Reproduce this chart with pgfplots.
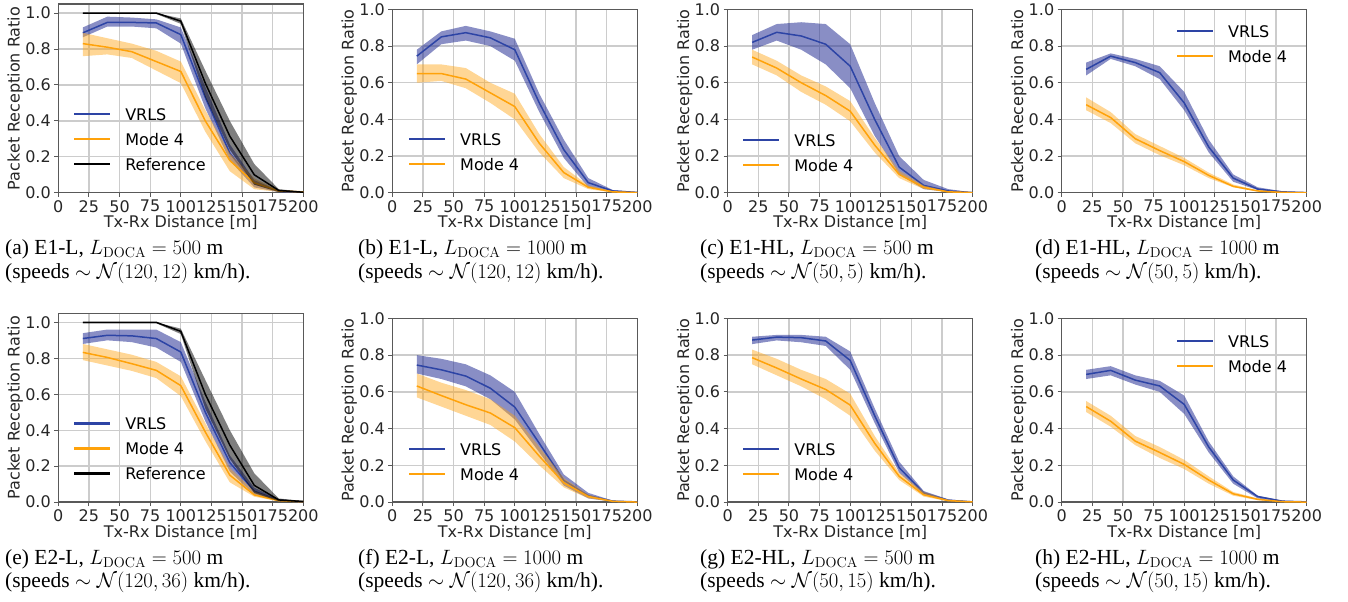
\documentclass[border=0pt]{standalone}
\usepackage[no-math]{fontspec}
\usepackage{pgfplots}
\usepackage{pgfplotstable}
\pgfplotsset{compat=1.18}
\setmainfont{Liberation Serif}
\newfontfamily\dejavu{DejaVu Sans}
\newcommand\axfont{\dejavu\fontsize{16}{19}\selectfont}
\newcommand\capfont{\fontsize{21.5}{24}\selectfont}
\definecolor{vline}{RGB}{45,68,165}
\definecolor{vband}{RGB}{40,50,150}
\definecolor{mline}{RGB}{255,162,10}
\definecolor{mband}{RGB}{255,165,20}

% mean curves (x, VRLS, Mode 4, Reference)
\pgfplotstableread{
x vm mm rm
20 0.89 0.83 1.0
40 0.948 0.81 1.0
60 0.948 0.785 1.0
80 0.945 0.73 1.0
100 0.88 0.675 0.955
120 0.53 0.40 0.61
140 0.22 0.18 0.315
160 0.05 0.055 0.10
180 0.008 0.01 0.013
200 0.002 0.005 0.003
}\tabA
\pgfplotstableread{
x vm mm
20 0.745 0.65
40 0.85 0.65
60 0.873 0.62
80 0.845 0.545
100 0.78 0.47
120 0.49 0.27
140 0.235 0.11
160 0.055 0.03
180 0.01 0.005
200 0.002 0.001
}\tabB
\pgfplotstableread{
x vm mm
20 0.82 0.74
40 0.875 0.68
60 0.855 0.60
80 0.81 0.53
100 0.69 0.445
120 0.40 0.26
140 0.14 0.10
160 0.04 0.03
180 0.01 0.005
200 0.001 0.001
}\tabC
\pgfplotstableread{
x vm mm
20 0.673 0.48
40 0.745 0.41
60 0.71 0.295
80 0.655 0.23
100 0.49 0.17
120 0.25 0.095
140 0.08 0.035
160 0.02 0.01
180 0.005 0.002
200 0.001 0
}\tabD
\pgfplotstableread{
x vm mm rm
20 0.91 0.833 1
40 0.928 0.805 1
60 0.925 0.77 1
80 0.91 0.733 1
100 0.835 0.648 0.95
120 0.50 0.39 0.60
140 0.22 0.15 0.317
160 0.06 0.04 0.093
180 0.01 0.008 0.012
200 0.002 0.002 0.003
}\tabE
\pgfplotstableread{
x vm mm
20 0.746 0.632
40 0.72 0.58
60 0.686 0.53
80 0.62 0.485
100 0.517 0.405
120 0.32 0.25
140 0.118 0.105
160 0.035 0.03
180 0.005 0.004
200 0.001 0
}\tabF
\pgfplotstableread{
x vm mm
20 0.882 0.786
40 0.898 0.73
60 0.895 0.67
80 0.877 0.613
100 0.771 0.528
120 0.47 0.32
140 0.187 0.14
160 0.05 0.04
180 0.01 0.008
200 0.001 0.001
}\tabG
\pgfplotstableread{
x vm mm
20 0.695 0.52
40 0.717 0.44
60 0.664 0.332
80 0.632 0.27
100 0.532 0.205
120 0.30 0.12
140 0.12 0.045
160 0.03 0.015
180 0.005 0.002
200 0.001 0
}\tabH

% band: colour, opacity, polygon (upper edge forward, lower edge back)
\newcommand\band[3]{\addplot[fill=#1, fill opacity=#2, draw=none, forget plot] coordinates {#3};}
\newcommand\mean[3]{\addplot[#3, line width=1.5pt, forget plot] table[x=x, y=#2] {#1};}
\newcommand\legVM{%
  \addlegendimage{legend image code/.code={\node[inner sep=0pt, text height=2.2pt, text depth=0pt, anchor=west] at (0pt,2pt) {\textcolor{vline}{\rule{36pt}{2.2pt}}};}}
  \addlegendentry{VRLS}
  \addlegendimage{legend image code/.code={\node[inner sep=0pt, text height=2.2pt, text depth=0pt, anchor=west] at (0pt,2pt) {\textcolor{mline}{\rule{36pt}{2.2pt}}};}}
  \addlegendentry{Mode 4}
}
\newcommand\legR{%
  \addlegendimage{legend image code/.code={\node[inner sep=0pt, text height=2.2pt, text depth=0pt, anchor=west] at (0pt,2pt) {\textcolor{black}{\rule{36pt}{2.2pt}}};}}
  \addlegendentry{Reference}
}

\pgfplotsset{
  prr/.style={
    scale only axis, width=245pt, height=183.4pt,
    xmin=0, xmax=200, ymin=0, ymax=1,
    xtick={0,25,50,75,100,125,150,175,200},
    ytick={0,0.2,0.4,0.6,0.8,1},
    tick pos=left, tick align=outside, major tick length=4pt,
    tick style={line width=1pt, black!65},
    axis line style={line width=1.2pt, black!65},
    grid=major, major grid style={line width=1.3pt, black!20},
    ticklabel style={font=\axfont, text=black!85},
    /pgf/number format/assume math mode=true,
    yticklabel style={/pgf/number format/.cd, fixed, fixed zerofill, precision=1},
    xlabel={Tx-Rx Distance [m]}, ylabel={Packet Reception Ratio},
    label style={font=\axfont, text=black!85},
    xlabel style={at={(axis description cs:0.5,0)}, anchor=center, yshift=-30pt},
    ylabel style={at={(axis description cs:-0.1755,0.5)}, anchor=center},
    legend cell align=left,
    legend style={font=\axfont, draw=none, fill=none,
      inner sep=4pt, anchor=north west, row sep=0pt,
      nodes={inner xsep=0pt, inner ysep=4.75pt, text height=12pt, text depth=3.5pt},
      /tikz/every odd column/.append style={column sep=15pt}},
  },
}

\begin{document}
\begin{tikzpicture}
% (a)
\begin{axis}[prr, at={(58.3pt,408.3pt)}, anchor=south west, height=188.7pt, ymax=1.05,
  legend style={at={(0.048,0.494)}}]
\legVM\legR
\band{vband}{0.55}{(20,.92)(40,.98)(60,.975)(80,.965)(100,.92)(120,.59)(140,.27)(160,.07)(180,.012)(200,.004)(200,0)(180,.004)(160,.03)(140,.18)(120,.47)(100,.83)(80,.915)(60,.925)(40,.925)(20,.865)}
\mean{\tabA}{vm}{vline}
\band{mband}{0.45}{(20,.89)(40,.86)(60,.83)(80,.79)(100,.73)(120,.46)(140,.22)(160,.08)(180,.015)(200,.008)(200,0)(180,.005)(160,.02)(140,.12)(120,.34)(100,.61)(80,.68)(60,.75)(40,.77)(20,.76)}
\mean{\tabA}{mm}{mline}
\band{black}{0.5}{(20,1)(40,1)(60,1)(80,1)(100,.97)(120,.68)(140,.40)(160,.16)(180,.02)(200,.006)(200,0)(180,.005)(160,.045)(140,.24)(120,.53)(100,.94)(80,.995)(60,.995)(40,.995)(20,.995)}
\mean{\tabA}{rm}{black}
\end{axis}
% (b)
\begin{axis}[prr, at={(392.3pt,408.3pt)}, anchor=south west,
  legend style={at={(0.052,0.372)}}]
\legVM
\band{vband}{0.55}{(20,.78)(40,.88)(60,.91)(80,.88)(100,.84)(120,.54)(140,.29)(160,.08)(180,.015)(200,.004)(200,0)(180,.005)(160,.03)(140,.19)(120,.44)(100,.72)(80,.80)(60,.83)(40,.81)(20,.70)}
\mean{\tabB}{vm}{vline}
\band{mband}{0.45}{(20,.70)(40,.70)(60,.68)(80,.60)(100,.54)(120,.32)(140,.14)(160,.04)(180,.008)(200,.002)(200,0)(180,.002)(160,.02)(140,.08)(120,.22)(100,.40)(80,.49)(60,.57)(40,.61)(20,.60)}
\mean{\tabB}{mm}{mline}
\end{axis}
% (c)
\begin{axis}[prr, at={(727.7pt,408.3pt)}, anchor=south west,
  legend style={at={(0.047,0.368)}}]
\legVM
\band{vband}{0.55}{(20,.86)(40,.92)(60,.93)(80,.92)(100,.81)(120,.49)(140,.20)(160,.07)(180,.02)(200,.002)(200,0)(180,.005)(160,.02)(140,.10)(120,.31)(100,.57)(80,.70)(60,.78)(40,.83)(20,.78)}
\mean{\tabC}{vm}{vline}
\band{mband}{0.45}{(20,.78)(40,.72)(60,.64)(80,.58)(100,.50)(120,.30)(140,.12)(160,.04)(180,.008)(200,.002)(200,0)(180,.002)(160,.02)(140,.08)(120,.22)(100,.39)(80,.48)(60,.55)(40,.64)(20,.70)}
\mean{\tabC}{mm}{mline}
\end{axis}
% (d)
\begin{axis}[prr, at={(1061.7pt,408.3pt)}, anchor=south west,
  legend style={at={(0.454,0.962)}}]
\legVM
\band{vband}{0.55}{(20,.71)(40,.76)(60,.73)(80,.69)(100,.55)(120,.29)(140,.10)(160,.03)(180,.008)(200,.002)(200,0)(180,.002)(160,.015)(140,.06)(120,.22)(100,.45)(80,.62)(60,.69)(40,.73)(20,.64)}
\mean{\tabD}{vm}{vline}
\band{mband}{0.45}{(20,.52)(40,.44)(60,.32)(80,.255)(100,.19)(120,.11)(140,.045)(160,.013)(180,.003)(200,.001)(200,0)(180,.001)(160,.007)(140,.03)(120,.08)(100,.15)(80,.205)(60,.27)(40,.38)(20,.45)}
\mean{\tabD}{mm}{mline}
\end{axis}
% (e)
\begin{axis}[prr, at={(58.3pt,99pt)}, anchor=south west, height=188.7pt, ymax=1.05,
  legend style={at={(0.048,0.494)}}]
\legVM\legR
\band{vband}{0.55}{(20,.94)(40,.96)(60,.96)(80,.96)(100,.89)(120,.56)(140,.26)(160,.08)(180,.015)(200,.004)(200,0)(180,.005)(160,.04)(140,.17)(120,.45)(100,.78)(80,.86)(60,.89)(40,.90)(20,.88)}
\mean{\tabE}{vm}{vline}
\band{mband}{0.45}{(20,.88)(40,.85)(60,.82)(80,.78)(100,.70)(120,.44)(140,.19)(160,.06)(180,.012)(200,.004)(200,0)(180,.004)(160,.03)(140,.11)(120,.34)(100,.59)(80,.69)(60,.73)(40,.76)(20,.79)}
\mean{\tabE}{mm}{mline}
\band{black}{0.5}{(20,1)(40,1)(60,1)(80,1)(100,.965)(120,.68)(140,.40)(160,.16)(180,.02)(200,.006)(200,0)(180,.005)(160,.05)(140,.24)(120,.52)(100,.935)(80,.995)(60,.995)(40,.995)(20,.995)}
\mean{\tabE}{rm}{black}
\end{axis}
% (f)
\begin{axis}[prr, at={(392.3pt,99pt)}, anchor=south west, height=183.7pt,
  legend style={at={(0.052,0.367)}}]
\legVM
\band{vband}{0.55}{(20,.80)(40,.78)(60,.75)(80,.69)(100,.60)(120,.37)(140,.15)(160,.05)(180,.008)(200,.002)(200,0)(180,.002)(160,.02)(140,.09)(120,.27)(100,.45)(80,.56)(60,.63)(40,.67)(20,.70)}
\mean{\tabF}{vm}{vline}
\band{mband}{0.45}{(20,.70)(40,.65)(60,.61)(80,.56)(100,.47)(120,.30)(140,.13)(160,.04)(180,.006)(200,.001)(200,0)(180,.002)(160,.02)(140,.08)(120,.20)(100,.33)(80,.42)(60,.47)(40,.52)(20,.57)}
\mean{\tabF}{mm}{mline}
\end{axis}
% (g)
\begin{axis}[prr, at={(727.7pt,99pt)}, anchor=south west, height=183.7pt,
  legend style={at={(0.047,0.367)}}]
\legVM
\band{vband}{0.55}{(20,.90)(40,.91)(60,.91)(80,.90)(100,.82)(120,.51)(140,.22)(160,.06)(180,.015)(200,.002)(200,0)(180,.005)(160,.04)(140,.16)(120,.43)(100,.72)(80,.85)(60,.87)(40,.88)(20,.86)}
\mean{\tabG}{vm}{vline}
\band{mband}{0.45}{(20,.83)(40,.78)(60,.72)(80,.67)(100,.59)(120,.36)(140,.16)(160,.055)(180,.012)(200,.002)(200,0)(180,.004)(160,.03)(140,.12)(120,.28)(100,.47)(80,.56)(60,.63)(40,.69)(20,.75)}
\mean{\tabG}{mm}{mline}
\end{axis}
% (h)
\begin{axis}[prr, at={(1061.7pt,99pt)}, anchor=south west, height=183.7pt,
  legend style={at={(0.454,0.957)}}]
\legVM
\band{vband}{0.55}{(20,.72)(40,.74)(60,.69)(80,.66)(100,.58)(120,.33)(140,.14)(160,.035)(180,.008)(200,.002)(200,0)(180,.002)(160,.02)(140,.10)(120,.27)(100,.48)(80,.60)(60,.64)(40,.69)(20,.67)}
\mean{\tabH}{vm}{vline}
\band{mband}{0.45}{(20,.55)(40,.47)(60,.36)(80,.30)(100,.23)(120,.14)(140,.055)(160,.02)(180,.003)(200,.001)(200,0)(180,.001)(160,.01)(140,.035)(120,.10)(100,.18)(80,.24)(60,.31)(40,.41)(20,.49)}
\mean{\tabH}{mm}{mline}
\end{axis}
% captions
\begin{scope}[every node/.style={anchor=base west, inner sep=0pt, font=\capfont}]
\node at (5pt,347pt) {(a) E1-L, $L_{\mathrm{DOCA}} = 500$ m};
\node at (5pt,323pt) {(speeds $\sim \mathcal{N}(120, 12)$ km/h).};
\node at (358pt,347pt) {(b) E1-L, $L_{\mathrm{DOCA}} = 1000$ m};
\node at (358pt,323pt) {(speeds $\sim \mathcal{N}(120, 12)$ km/h).};
\node at (700pt,347pt) {(c) E1-HL, $L_{\mathrm{DOCA}} = 500$ m};
\node at (700pt,323pt) {(speeds $\sim \mathcal{N}(50, 5)$ km/h).};
\node at (1035pt,347pt) {(d) E1-HL, $L_{\mathrm{DOCA}} = 1000$ m};
\node at (1035pt,323pt) {(speeds $\sim \mathcal{N}(50, 5)$ km/h).};
\node at (5pt,37pt) {(e) E2-L, $L_{\mathrm{DOCA}} = 500$ m};
\node at (5pt,14pt) {(speeds $\sim \mathcal{N}(120, 36)$ km/h).};
\node at (358pt,37pt) {(f) E2-L, $L_{\mathrm{DOCA}} = 1000$ m};
\node at (358pt,14pt) {(speeds $\sim \mathcal{N}(120, 36)$ km/h).};
\node at (700pt,37pt) {(g) E2-HL, $L_{\mathrm{DOCA}} = 500$ m};
\node at (700pt,14pt) {(speeds $\sim \mathcal{N}(50, 15)$ km/h).};
\node at (1035pt,37pt) {(h) E2-HL, $L_{\mathrm{DOCA}} = 1000$ m};
\node at (1035pt,14pt) {(speeds $\sim \mathcal{N}(50, 15)$ km/h).};
\end{scope}
\path (0pt,0pt) rectangle (1348pt,600pt);
\end{tikzpicture}
\end{document}
